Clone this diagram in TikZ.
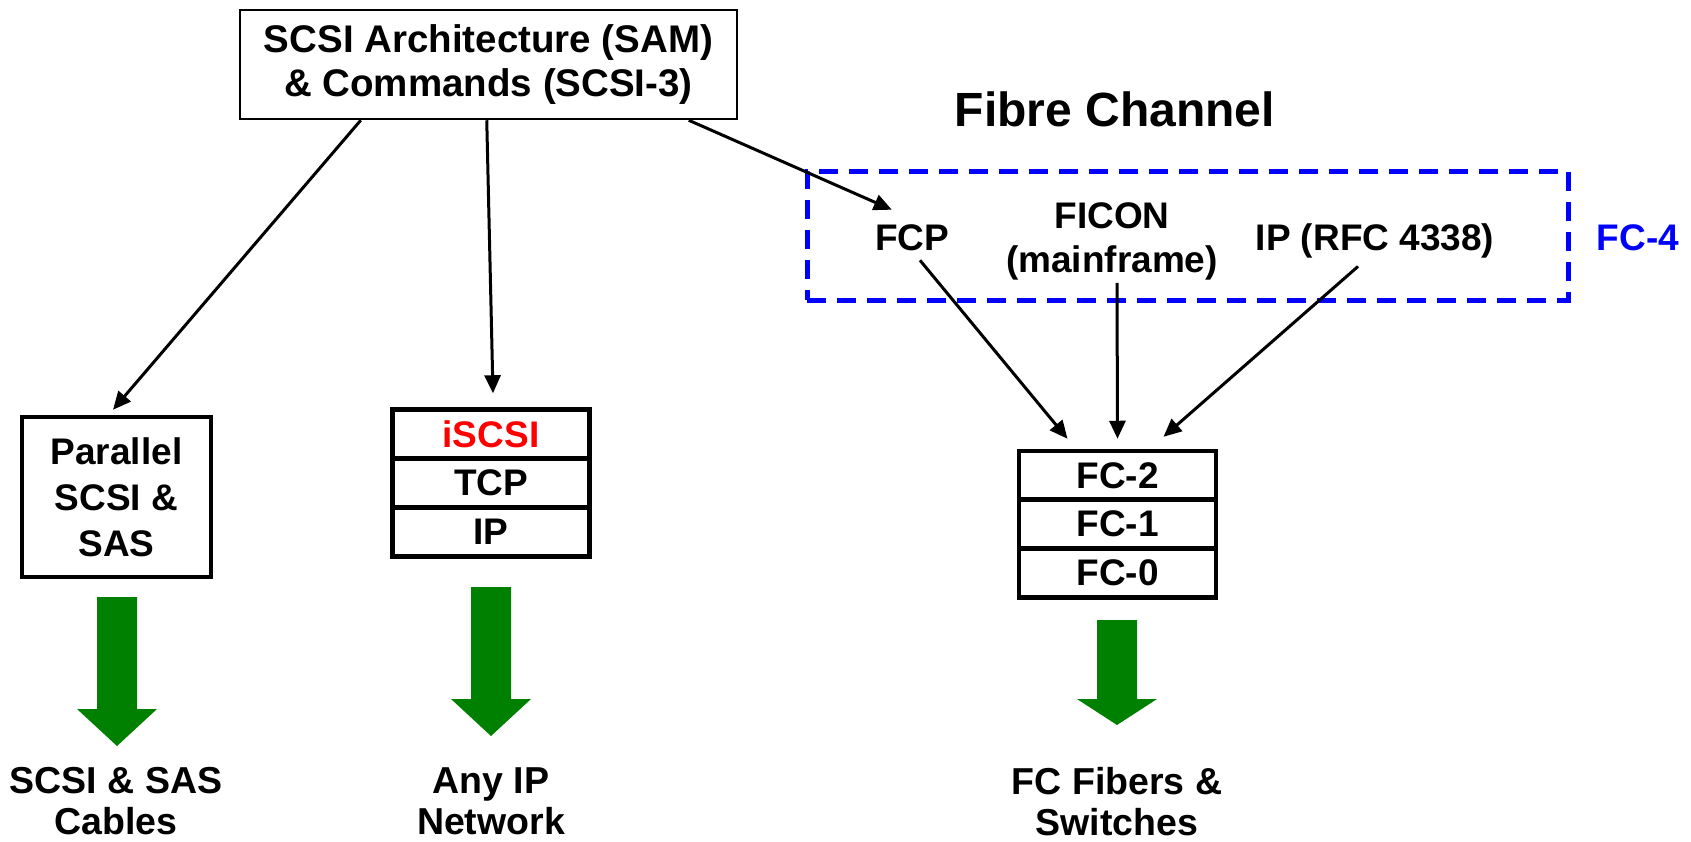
\documentclass[tikz,border=0pt]{standalone}
\usepackage{fontspec}
\setmainfont{Liberation Sans}
\usetikzlibrary{arrows.meta,calc}
\definecolor{fcgreen}{RGB}{0,128,0}
\definecolor{fcblue}{RGB}{0,0,255}
\definecolor{fcred}{RGB}{255,0,0}
\begin{document}
\begin{tikzpicture}[x=1pt,y=-1pt,
  every node/.style={font=\fontsize{37}{44}\selectfont\bfseries, inner sep=0pt},
  topbox/.style={draw, line width=2.5pt, align=center},
  stackrow/.style={draw, line width=4.5pt, minimum width=197pt, minimum height=49pt},
  conn/.style={line width=3pt, -{Triangle[length=18pt,width=16pt]}},
  blockarrow/.style={fill=fcgreen, draw=none},
  bottomlabel/.style={align=center, font=\fontsize{37.5}{41}\selectfont\bfseries}]
\useasboundingbox (0,0) rectangle (1691,841);

% top box
\node[topbox, minimum width=497pt, minimum height=109pt,
      font=\fontsize{38.5}{44}\selectfont\bfseries] (top) at (488.5,64.5)
  {SCSI Architecture (SAM)\\\& Commands (SCSI-3)};

% Fibre Channel title
\node[font=\fontsize{48}{56}\selectfont\bfseries] (fc) at (1115,109) {Fibre Channel};

% FC-4 dashed region
\node[draw=fcblue, line width=5pt, dash pattern=on 19pt off 11pt,
      minimum width=761pt, minimum height=129pt] (fcfour) at (1187.5,235.5) {};
\node[text=fcblue] (fcfourlabel) at (1638,238) {FC-4};
\node (fcp) at (912,238) {FCP};
\node[align=center] (ficon) at (1112,241) {FICON\\(mainframe)};
\node (ipr) at (1375,241) {IP (RFC 4338)};

% Parallel SCSI box
\node[draw, line width=4.5pt, minimum width=189pt, minimum height=160pt, align=center,
      font=\fontsize{37}{46}\selectfont\bfseries] (par) at (116.5,497)
  {Parallel\\SCSI \&\\SAS};

% iSCSI stack
\node[stackrow, text=fcred] (isc) at (491,434) {iSCSI};
\node[stackrow] (tcp) at (491,483) {TCP};
\node[stackrow] (ip) at (491,532) {IP};

% FC stack
\node[stackrow] (fctwo) at (1117.5,475.5) {FC-2};
\node[stackrow] (fcone) at (1117.5,524) {FC-1};
\node[stackrow] (fczero) at (1117.5,573) {FC-0};

% connectors
\draw[conn] ($(top.south west)+(122,0)$) -- ($(par.north)+(-3.5,-5)$);
\draw[conn] ($(top.south west)+(248,0)$) -- ($(isc.north)+(2,-14)$);
\draw[conn] ($(top.south west)+(450,0)$) -- ($(fcp.north west)+(17,-15)$);
\draw[conn] ($(fcp.south)+(8,9)$) -- ($(fctwo.north)+(-50,-10)$);
\draw[conn] ($(ficon.south)+(5,3)$) -- ($(fctwo.north)+(0,-10)$);
\draw[conn] ($(ipr.south)+(-17,8)$) -- ($(fctwo.north)+(46,-12)$);

% green block arrows
\fill[blockarrow] (97,597) -- (137,597) -- (137,709) -- (157,709) -- (117,746)
  -- (77,709) -- (97,709) -- cycle;
\fill[blockarrow] (471,587) -- (511,587) -- (511,699) -- (531,699) -- (491,736)
  -- (451,699) -- (471,699) -- cycle;
\fill[blockarrow] (1097,620) -- (1137,620) -- (1137,699) -- (1157,699) -- (1117,725)
  -- (1077,699) -- (1097,699) -- cycle;

% bottom labels
\node[bottomlabel] (cables) at (116,801.5) {SCSI \& SAS\\Cables};
\node[bottomlabel] (network) at (491,801.5) {Any IP\\Network};
\node[bottomlabel] (fibers) at (1117,801.5) {FC Fibers \&\\Switches};
\end{tikzpicture}
\end{document}
